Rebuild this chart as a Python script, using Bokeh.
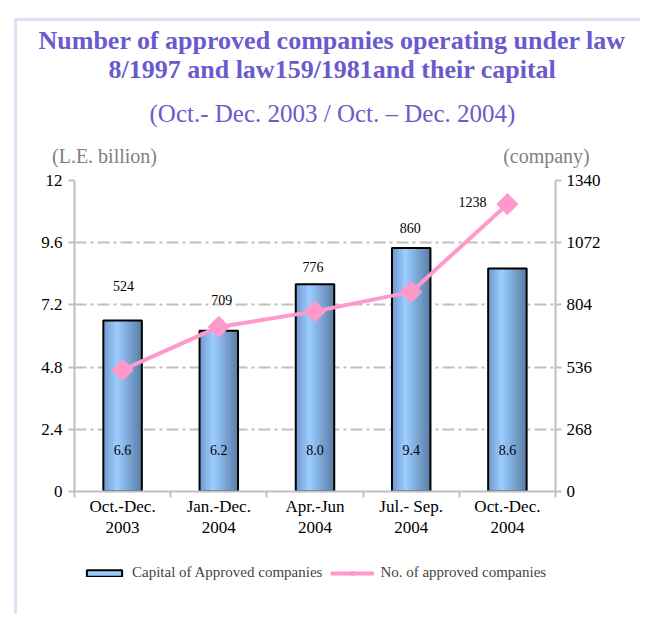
import numpy as np
from bokeh.plotting import figure
from bokeh.layouts import column
from bokeh.models import (Range1d, LinearAxis, FixedTicker, Title, Legend,
                          LegendItem)
from bokeh.core.properties import value
from bokeh.embed import file_html
from bokeh.resources import INLINE

# ---------------- data ----------------
categories = ["Oct.-Dec.\n2003", "Jan.-Dec.\n2004", "Apr.-Jun\n2004",
              "Jul.- Sep.\n2004", "Oct.-Dec.\n2004"]
capital = [6.6, 6.2, 8.0, 9.4, 8.6]
companies = [524, 709, 776, 860, 1238]
capital_labels = ["6.6", "6.2", "8.0", "9.4", "8.6"]
company_labels = ["524", "709", "776", "860", "1238"]
left_ticks = [0, 2.4, 4.8, 7.2, 9.6, 12]
left_tick_labels = ["0", "2.4", "4.8", "7.2", "9.6", "12"]
right_ticks = [0, 268, 536, 804, 1072, 1340]
unit_labels = ["(L.E. billion)", "(company)"]
title_lines = ["Number of approved companies operating under law",
               "8/1997 and law159/1981and their capital"]
subtitle = "(Oct.- Dec. 2003 / Oct. \u2013 Dec. 2004)"
series_names = ["Capital of Approved companies", "No. of approved companies"]

# ---------------- style / layout ----------------
OX, OY = 17, 21                 # page offset of figure (frame line drawn by css)
FRAME_L, FRAME_T = 74, 180      # page px of plot frame
FW, FH = 481, 311
ML, MT = FRAME_L - OX, FRAME_T - OY
W = 626
H1 = 530                        # main chart height
H2 = 66                         # legend strip height
MR, MB = W - ML - FW, H1 - MT - FH
PX0, PY0 = FRAME_L, FRAME_T + FH
N = len(categories)
YMAX, CMAX = 12, 1340

def xd(px):
    return round((px - PX0) / FW * N, 3)

def yd(py):
    return (PY0 - py) / FH * YMAX

SERIF = "Liberation Serif"
PURPLE = "#6a5acd"
GRAY = "#bfbfbf"
PINK = "#ff99cc"
BAR_MID = "#9cccfc"

p = figure(width=W, height=H1, x_range=Range1d(0, N), y_range=Range1d(0, YMAX),
           output_backend="svg", toolbar_location=None,
           min_border_left=ML, min_border_right=MR, min_border_top=MT,
           min_border_bottom=MB)
p.extra_y_ranges = {"cnt": Range1d(0, CMAX)}
p.outline_line_color = None
p.background_fill_color = "white"
p.border_fill_color = "white"

centers = [i + 0.5 for i in range(N)]

# x axis: labels at centres, tick marks at boundaries
xa = p.xaxis[0]
xa.ticker = FixedTicker(ticks=centers, minor_ticks=list(range(N + 1)))
xa.major_label_overrides = {c: lab for c, lab in zip(centers, categories)}
xa.major_tick_out = 0
xa.major_tick_in = 0
xa.minor_tick_out = 6
xa.minor_tick_in = 0
xa.minor_tick_line_color = GRAY
xa.minor_tick_line_width = 2
xa.axis_line_color = GRAY
xa.axis_line_width = 2
xa.major_label_text_font = SERIF
xa.major_label_text_font_size = "17px"
xa.major_label_text_color = "black"
xa.major_label_text_line_height = 1.15
xa.major_label_standoff = -1

ya = p.yaxis[0]
ya.ticker = FixedTicker(ticks=left_ticks)
ya.major_label_overrides = {t: s for t, s in zip(left_ticks, left_tick_labels)}
ya.axis_line_color = GRAY
ya.axis_line_width = 2
ya.major_tick_out = 6
ya.major_tick_in = 0
ya.major_tick_line_color = GRAY
ya.major_tick_line_width = 2
ya.minor_tick_line_color = None
ya.major_label_text_font = SERIF
ya.major_label_text_font_size = "17px"
ya.major_label_text_color = "black"
ya.major_label_standoff = 6

ra = LinearAxis(y_range_name="cnt", ticker=FixedTicker(ticks=right_ticks))
ra.axis_line_color = GRAY
ra.axis_line_width = 2
ra.major_tick_out = 6
ra.major_tick_in = 0
ra.major_tick_line_color = GRAY
ra.major_tick_line_width = 2
ra.minor_tick_line_color = None
ra.major_label_text_font = SERIF
ra.major_label_text_font_size = "17px"
ra.major_label_text_color = "black"
ra.major_label_standoff = 5
p.add_layout(ra, "right")

p.xgrid.grid_line_color = None
p.ygrid.ticker = FixedTicker(ticks=left_ticks)
p.ygrid.grid_line_color = "#c0c0c0"
p.ygrid.grid_line_width = 2
p.ygrid.grid_line_dash = "12 4 3 4"

# ---------------- bars with gradient ----------------
bw = 0.4
nstrip = 16
s = bw / nstrip
stops = [(0.0, (112, 152, 204)), (0.35, (156, 206, 255)), (1.0, (88, 124, 166))]

def grad(t):
    for (t0, c0), (t1, c1) in zip(stops[:-1], stops[1:]):
        if t <= t1:
            f = (t - t0) / (t1 - t0)
            return "#%02x%02x%02x" % tuple(int(round(a + (b - a) * f)) for a, b in zip(c0, c1))
    return "#%02x%02x%02x" % stops[-1][1]

for k in range(nstrip):
    t = (k + 0.5) / nstrip
    lefts = [c - bw / 2 + k * s for c in centers]
    rights = [min(c - bw / 2 + (k + 1.7) * s, c + bw / 2) for c in centers]
    p.quad(left=lefts, right=rights, top=capital, bottom=0,
           fill_color=grad(t), line_color=None)

p.vbar(x=centers, top=capital, width=bw, bottom=0,
       fill_color=None, line_color="black", line_width=2)

# bar value labels
p.text(x=centers, y=[yd(449)] * N, text=capital_labels,
       text_font=value(SERIF), text_font_size="14px", text_color="black",
       text_align="center", text_baseline="middle")

# ---------------- line ----------------
p.line(x=centers, y=companies, y_range_name="cnt", line_color=PINK, line_width=4)
p.scatter(x=centers, y=companies, y_range_name="cnt", marker="square",
          angle=np.pi / 4, size=15, fill_color=PINK, line_color=PINK)

# company labels (pixel offsets from points, style only)
lab_dx = [1, 3, -2, -1, -35]
lab_dy = [84, 27, 44, 64, 2]
lx = [c + dx / FW * N for c, dx in zip(centers, lab_dx)]
ly = [v + dy / FH * CMAX for v, dy in zip(companies, lab_dy)]
p.text(x=lx, y=ly, y_range_name="cnt", text=company_labels,
       text_font=value(SERIF), text_font_size="14px", text_color="black",
       text_align="center", text_baseline="middle")

# ---------------- unit labels (axis above, no line / ticks) ----------------
unit_pos = [xd(104), xd(546)]
ua = LinearAxis(ticker=FixedTicker(ticks=unit_pos))
ua.major_label_overrides = {t: s for t, s in zip(unit_pos, unit_labels)}
ua.axis_line_color = None
ua.major_tick_line_color = None
ua.minor_tick_line_color = None
ua.major_tick_out = 0
ua.major_label_text_font = SERIF
ua.major_label_text_font_size = "20px"
ua.major_label_text_color = "#808080"
ua.major_label_standoff = 14
p.add_layout(ua, "above")

# ---------------- titles ----------------
def add_title(text, size, style, standoff, offset):
    p.add_layout(Title(text=text, text_font=SERIF, text_font_size=size,
                       text_font_style=style, text_color=PURPLE,
                       align="left", offset=offset, standoff=standoff), "above")

add_title(subtitle, "25px", "normal", 29, 75)
add_title(title_lines[1], "26px", "bold", -1, 34)
add_title(title_lines[0], "26px", "bold", -3, -36)

# ---------------- legend strip (own small figure) ----------------
lp = figure(width=W, height=H2, x_range=Range1d(0, 1), y_range=Range1d(0, 1),
            output_backend="svg", toolbar_location=None,
            x_axis_location=None, y_axis_location=None,
            min_border_left=0, min_border_right=0, min_border_top=0,
            min_border_bottom=0)
lp.grid.visible = False
lp.outline_line_color = None
lp.background_fill_color = "white"
lp.border_fill_color = "white"

# legend-only swatches, placed outside the strip's visible range
bar_fill = lp.quad(left=[-3], right=[-2], top=[-2], bottom=[-3],
                   fill_color=BAR_MID, line_color=None)
bar_edge = lp.quad(left=[-3], right=[-2], top=[-2], bottom=[-3],
                   fill_color=None, line_color="black", line_width=2)
leg_line = lp.line(x=[-3, -2], y=[-3, -3], line_color=PINK, line_width=4)
leg_mark = lp.scatter(x=[-3], y=[-3], marker="square", angle=np.pi / 4, size=9,
                      fill_color=PINK, line_color=PINK)

LEG_X, LEG_CY = 82, 572      # page px: left edge and vertical centre
legend = Legend(items=[
    LegendItem(label=series_names[0], renderers=[bar_fill, bar_edge]),
    LegendItem(label=series_names[1], renderers=[leg_line, leg_mark]),
], orientation="horizontal",
    location=(LEG_X - FRAME_L, (OY + H1 + H2) - LEG_CY - 9),
    glyph_width=44, glyph_height=8, label_standoff=6, spacing=8,
    padding=0, margin=0, border_line_color=None, background_fill_alpha=0,
    label_text_font=SERIF, label_text_font_size="15px")
lp.add_layout(legend, "center")

root = column(p, lp, spacing=0, margin=(OY, 0, 0, OX),
              styles={"box-shadow": "-3px -3px 0 0 #dfe0f6"})

open("out.html", "w").write(file_html(root, INLINE))
